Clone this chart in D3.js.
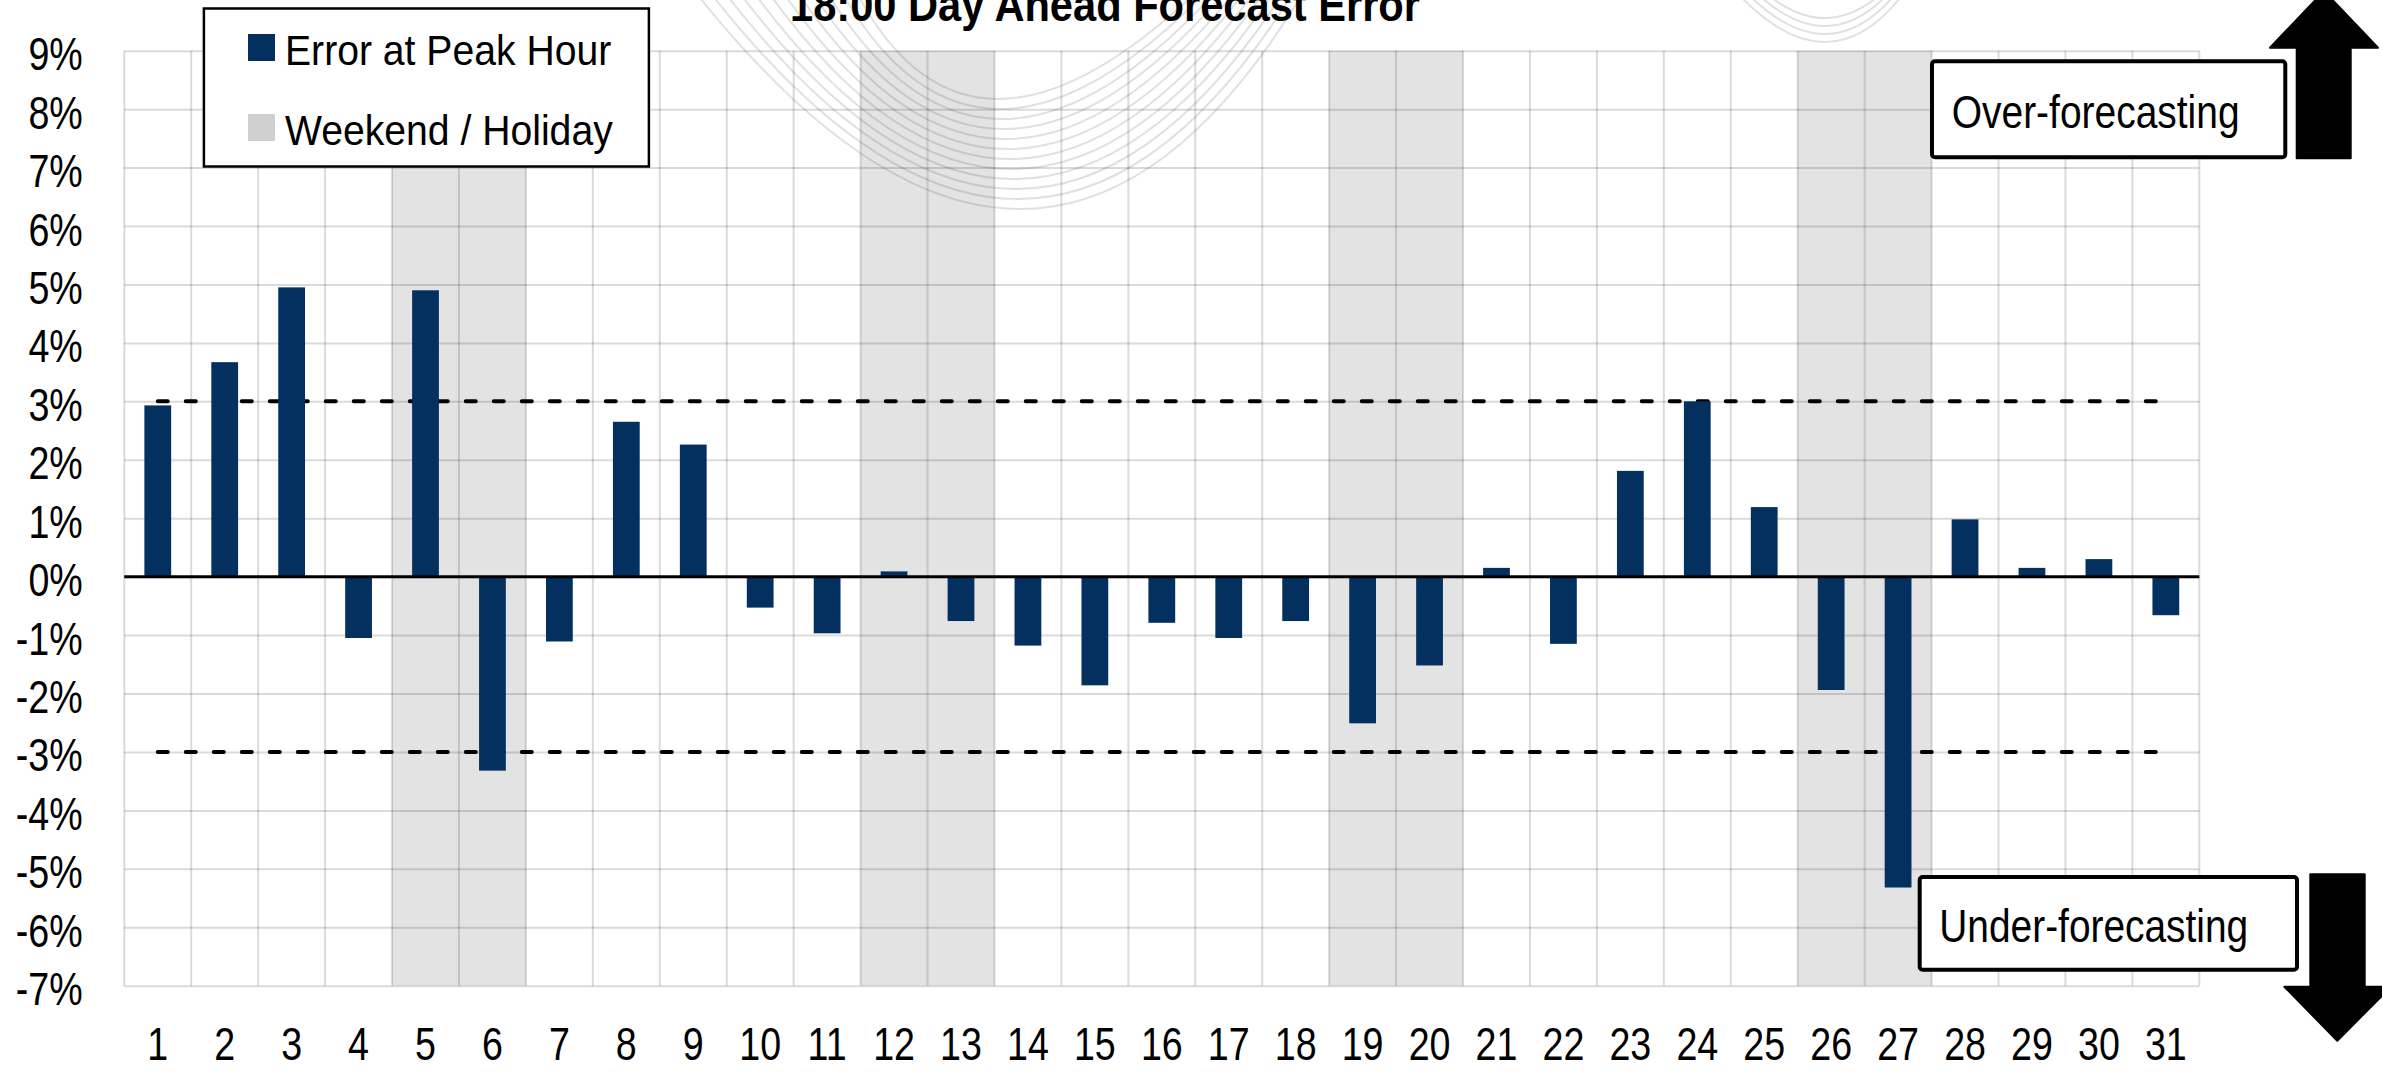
<!DOCTYPE html>
<html><head><meta charset="utf-8">
<script src="https://cdn.jsdelivr.net/npm/d3@7"></script>
<style>
html,body{margin:0;padding:0;background:#fff;overflow:hidden}
svg{display:block;font-family:"Liberation Sans",Arial,sans-serif}
</style>
</head><body>
<svg id="c" width="2382" height="1074"></svg>
<script>
// ---------------- data ----------------
const days = [1,2,3,4,5,6,7,8,9,10,11,12,13,14,15,16,17,18,19,20,21,22,23,24,25,26,27,28,29,30,31];
const errorValues = [2.93,3.67,4.95,-1.05,4.90,-3.32,-1.11,2.65,2.26,-0.53,-0.97,0.09,-0.76,-1.18,-1.86,-0.79,-1.05,-0.76,-2.51,-1.52,0.15,-1.15,1.81,3.00,1.19,-1.94,-5.32,0.98,0.15,0.30,-0.66];
const weekendDays = [5,6,12,13,19,20,26,27];
const thresholdLevels = [3,-3];
const yTicks = [-7,-6,-5,-4,-3,-2,-1,0,1,2,3,4,5,6,7,8,9];
const legendLabels = ["Error at Peak Hour","Weekend / Holiday"];
const titleText = "18:00 Day Ahead Forecast Error";
const overLabel = "Over-forecasting";
const underLabel = "Under-forecasting";

// ---------------- layout ----------------
const svg = d3.select("#c");
const m = {left:124.3, right:2199.3, top:50.7, bottom:985.7};
const navy = "#03305f";
const x = d3.scaleBand().domain(days).range([m.left, m.right]).padding(0);
const y = d3.scaleLinear().domain([-7, 9]).range([m.bottom, m.top]);
const bw = x.bandwidth();

svg.append("rect").attr("width",2382).attr("height",1074).attr("fill","#fff");

// weekend shading
svg.append("g").selectAll("rect").data(weekendDays).join("rect")
  .attr("x", d => x(d)).attr("width", bw)
  .attr("y", m.top).attr("height", m.bottom - m.top)
  .attr("fill", "#e3e3e3");

// faint watermark curves (decoration)
const wm = svg.append("g").attr("fill","none").attr("stroke","rgba(0,0,0,0.12)").attr("stroke-width",2);
for (let i = 0; i < 12; i++) {
  const lx = 700 + i*14.5, rx = 1300 - i*10, h = 210 - i*10, bx = 1020 - i*2;
  const cx = (4*bx - lx - rx)/2;
  wm.append("path").attr("d", `M${lx},-2 Q${cx},${2*h} ${rx},-2`);
}
for (let i = 0; i < 4; i++) {
  const lx = 1742 + i*10, rx = 1900 - i*8, h = 43 - i*8, bx = 1825;
  const cx = (4*bx - lx - rx)/2;
  wm.append("path").attr("d", `M${lx},-2 Q${cx},${2*h} ${rx},-2`);
}

// gridlines
const grid = svg.append("g");
grid.append("g").attr("transform", `translate(${m.left},0)`)
  .call(d3.axisLeft(y).tickValues(yTicks).tickSize(-(m.right - m.left)).tickFormat(""))
  .call(g => g.select(".domain").remove())
  .call(g => g.selectAll("line").attr("stroke","rgba(0,0,0,0.145)").attr("stroke-width",2));
grid.append("g").selectAll("line").data(days.map(d => x(d)).concat([m.right])).join("line")
  .attr("x1", d => d).attr("x2", d => d).attr("y1", m.top).attr("y2", m.bottom)
  .attr("stroke","rgba(0,0,0,0.145)").attr("stroke-width",2);

// threshold dashed lines
const line = d3.line().x(d => x(d.day) + bw/2).y(d => y(d.v));
svg.append("g").selectAll("path").data(thresholdLevels).join("path")
  .attr("d", lv => line(days.map(d => ({day:d, v:lv}))))
  .attr("fill","none").attr("stroke","#000").attr("stroke-width",4)
  .attr("stroke-dasharray","10,18").attr("stroke-linecap","round");

// bars
svg.append("g").selectAll("rect").data(days.map((d,i) => ({day:d, v:errorValues[i]}))).join("rect")
  .attr("x", d => x(d.day) + bw*0.3).attr("width", bw*0.4)
  .attr("y", d => y(Math.max(0, d.v)))
  .attr("height", d => Math.abs(y(d.v) - y(0)))
  .attr("fill", navy);

// zero line
svg.append("line").attr("x1", m.left).attr("x2", m.right)
  .attr("y1", y(0)).attr("y2", y(0)).attr("stroke","#000").attr("stroke-width",3);

// axes labels
const kAxis = 0.8;
svg.append("g").attr("transform", `translate(${m.left},0)`)
  .call(d3.axisLeft(y).tickValues(yTicks).tickSize(0).tickFormat(d => d + "%"))
  .call(g => g.select(".domain").remove())
  .call(g => g.selectAll("text")
    .attr("font-size", 47).attr("font-family", '"Liberation Sans",Arial,sans-serif')
    .attr("fill","#000").attr("text-anchor","end")
    .attr("x", -41.6 / kAxis).attr("dy", null).attr("y", 19)
    .attr("transform", `scale(${kAxis},1)`));

svg.append("g").attr("transform", `translate(0,${m.bottom})`)
  .call(d3.axisBottom(x).tickSize(0))
  .call(g => g.select(".domain").remove())
  .call(g => g.selectAll("text")
    .attr("font-size", 47).attr("font-family", '"Liberation Sans",Arial,sans-serif')
    .attr("fill","#000").attr("text-anchor","middle")
    .attr("y", 74.3).attr("dy", null)
    .attr("transform", `scale(${kAxis},1)`));

function squeezedText(g, str, tx, ty, size, k, opts = {}) {
  return g.append("text").text(str)
    .attr("transform", `translate(${tx},${ty}) scale(${k},1)`)
    .attr("font-size", size)
    .attr("font-weight", opts.bold ? "bold" : "normal")
    .attr("text-anchor", opts.anchor || "start")
    .attr("fill", "#000");
}

// title (partly above the top edge, as in the reference)
squeezedText(svg, titleText, 1105, 20.5, 46, 0.905, {bold:true, anchor:"middle"});

// legend
const lg = svg.append("g");
lg.append("rect").attr("x",203.9).attr("y",8.5).attr("width",445).attr("height",158)
  .attr("fill","#fff").attr("stroke","#000").attr("stroke-width",2.5);
const swatchColors = [navy, "#d0d0d0"];
const legendRows = [34, 114];
legendLabels.forEach((lab, i) => {
  lg.append("rect").attr("x",248).attr("y",legendRows[i]).attr("width",27).attr("height",27).attr("fill",swatchColors[i]);
  squeezedText(lg, lab, 285, legendRows[i] + 30.5, 43, 0.91);
});

// over / under boxes
const nb = svg.append("g");
nb.append("rect").attr("x",1932).attr("y",61.3).attr("width",353.3).attr("height",96)
  .attr("rx",3).attr("fill","#fff").attr("stroke","#000").attr("stroke-width",4);
squeezedText(nb, overLabel, 1951.7, 128, 46, 0.847);
nb.append("rect").attr("x",1919.7).attr("y",877).attr("width",377.3).attr("height",92.7)
  .attr("rx",3).attr("fill","#fff").attr("stroke","#000").attr("stroke-width",4);
squeezedText(nb, underLabel, 1939.3, 941.7, 46, 0.845);

// arrows
const ar = svg.append("g").attr("fill","#000").attr("stroke","#000").attr("stroke-width",2).attr("stroke-linejoin","round");
ar.append("polygon").attr("points", [
  [2296.7,158.3],[2350.7,158.3],[2350.7,47.7],[2378,47.7],[2324,-9],[2270,47.7],[2296.7,47.7]
].map(p => p.join(",")).join(" "));
ar.append("polygon").attr("points", [
  [2310.3,874.3],[2364.7,874.3],[2364.7,986.7],[2391,986.7],[2337.3,1040.7],[2284.3,986.7],[2310.3,986.7]
].map(p => p.join(",")).join(" "));
</script>
</body></html>
